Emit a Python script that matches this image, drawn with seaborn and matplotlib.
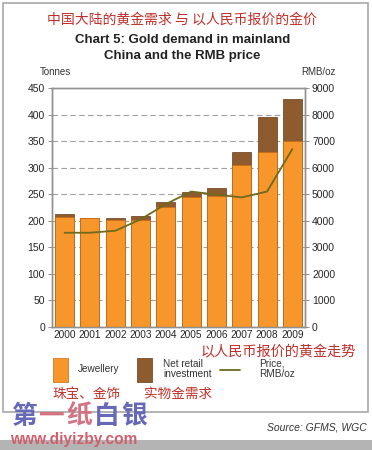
import numpy as np
import pandas as pd
import matplotlib
matplotlib.use("Agg")
import matplotlib.pyplot as plt
import seaborn as sns
from matplotlib.patches import Rectangle

# DATA
years = ["2000", "2001", "2002", "2003", "2004", "2005", "2006", "2007", "2008", "2009"]
jewellery = [207, 205, 201, 201, 226, 244, 246, 305, 330, 351]
investment = [5, 1, 4, 8, 10, 11, 16, 25, 65, 79]
price = [3550, 3550, 3625, 4050, 4630, 5100, 4985, 4880, 5100, 6700]

df = pd.DataFrame({"year": years, "jewellery": jewellery, "investment": investment, "price": price})
df["total"] = df["jewellery"] + df["investment"]

orange = "#F7962A"
brown = "#8E5B2E"
olive = "#6E6A1E"
red = "#C0302A"

sns.set_style("white")
plt.rcParams["font.family"] = ["Liberation Sans", "Noto Sans CJK SC", "DejaVu Sans"]
cjk = ["Noto Sans CJK SC", "DejaVu Sans"]

W, H = 372, 450
fig = plt.figure(figsize=(3.72, 4.5), dpi=100)

# outer frame and bottom band
fig.patches.append(Rectangle((3 / W, 1 - 412 / H), 365 / W, 409 / H, transform=fig.transFigure,
                             fill=False, edgecolor="#A8A8A8", linewidth=1.2))
fig.patches.append(Rectangle((0, 0), 1, 10 / H, transform=fig.transFigure,
                             facecolor="#B4B4B4", edgecolor="none"))

ax = fig.add_axes([52 / W, 1 - 327 / H, 253 / W, 239 / H])
ax.set_axisbelow(True)

# stacked bars: total first (brown), jewellery on top
sns.barplot(data=df, x="year", y="total", color=brown, width=0.75, saturation=1,
            edgecolor="#6A3A18", linewidth=0.5, ax=ax)
sns.barplot(data=df, x="year", y="jewellery", color=orange, width=0.75, saturation=1,
            edgecolor="#C86A10", linewidth=0.5, ax=ax)
for p in ax.patches:
    p.set_zorder(3)

ax.set_ylim(0, 450)
ax.set_yticks(range(0, 451, 50))
ax.set_xlim(-0.5, 9.5)
ax.set_xlabel("")
ax.set_ylabel("")
for yv in range(50, 401, 50):
    ax.axhline(yv, color="#A0A0A0", linestyle=(0, (5, 3)), linewidth=0.8, zorder=1)
ax.tick_params(axis="y", labelsize=7.5, length=3, width=0.6, color="#808080", pad=2)
ax.tick_params(axis="x", labelsize=7.3, length=0, pad=2)
for s in ax.spines.values():
    s.set_color("#909090")
    s.set_linewidth(1.0)

ax2 = ax.twinx()
sns.lineplot(x=np.arange(len(years)), y=df["price"], color=olive, linewidth=1.3, ax=ax2, zorder=4)
ax2.set_ylim(0, 9000)
ax2.set_yticks(range(0, 9001, 1000))
ax2.set_ylabel("")
ax2.tick_params(axis="y", labelsize=7.5, length=3, width=0.6, color="#808080", pad=2)
for s in ax2.spines.values():
    s.set_color("#909090")
    s.set_linewidth(1.0)

# titles
fig.text(0.49, 1 - 20 / H, "中国大陆的黄金需求 与 以人民币报价的金价", ha="center", va="center",
         fontsize=10, color=red, family=cjk)
fig.text(0.49, 1 - 48 / H, "Chart 5: Gold demand in mainland\nChina and the RMB price", ha="center",
         va="center", fontsize=9.5, fontweight="bold", color="#222222", linespacing=1.4)
fig.text(40 / W, 1 - 72 / H, "Tonnes", ha="left", va="center", fontsize=7, color="#333333")
fig.text(318 / W, 1 - 72 / H, "RMB/oz", ha="center", va="center", fontsize=7, color="#333333")

# legend (drawn by hand like the original)
fig.patches.append(Rectangle((53 / W, 1 - 382 / H), 15 / W, 24 / H, transform=fig.transFigure,
                             facecolor=orange, edgecolor="#C86A10", linewidth=0.5))
fig.text(78 / W, 1 - 369 / H, "Jewellery", ha="left", va="center", fontsize=7.2, color="#333333")
fig.patches.append(Rectangle((137 / W, 1 - 382 / H), 15 / W, 24 / H, transform=fig.transFigure,
                             facecolor=brown, edgecolor="#6A3A18", linewidth=0.5))
fig.text(163 / W, 1 - 369 / H, "Net retail\ninvestment", ha="left", va="center", fontsize=7.2,
         color="#333333", linespacing=1.1)
fig.lines.append(plt.Line2D([220 / W, 240 / W], [1 - 370 / H, 1 - 370 / H], transform=fig.transFigure,
                            color=olive, linewidth=1.3))
fig.text(259 / W, 1 - 369 / H, "Price,\nRMB/oz", ha="left", va="center", fontsize=7.2,
         color="#333333", linespacing=1.1)

fig.text(278 / W, 1 - 351 / H, "以人民币报价的黄金走势", ha="center", va="center", fontsize=10.2,
         color=red, family=cjk)
fig.text(86 / W, 1 - 394 / H, "珠宝、金饰", ha="center", va="center", fontsize=9.8, color=red, family=cjk)
fig.text(178 / W, 1 - 394 / H, "实物金需求", ha="center", va="center", fontsize=9.8, color=red, family=cjk)

# watermark
wm = [("第", "#6668B8"), ("一", "#D27282"), ("纸", "#D27282"), ("白", "#6668B8"), ("银", "#6668B8")]
for i, (ch, c) in enumerate(wm):
    fig.text((11 + i * 27.5) / W, 1 - 416 / H, ch, ha="left", va="center", fontsize=18.5,
             fontweight="bold", color=c, family=cjk)
fig.text(10 / W, 1 - 439.5 / H, "www.diyizby.com", ha="left", va="center", fontsize=11.2,
         fontweight="bold", color="#D0606E")

fig.text(367 / W, 1 - 428 / H, "Source: GFMS, WGC", ha="right", va="center", fontsize=7.5,
         style="italic", color="#333333")

fig.savefig("out.png", dpi=100)
